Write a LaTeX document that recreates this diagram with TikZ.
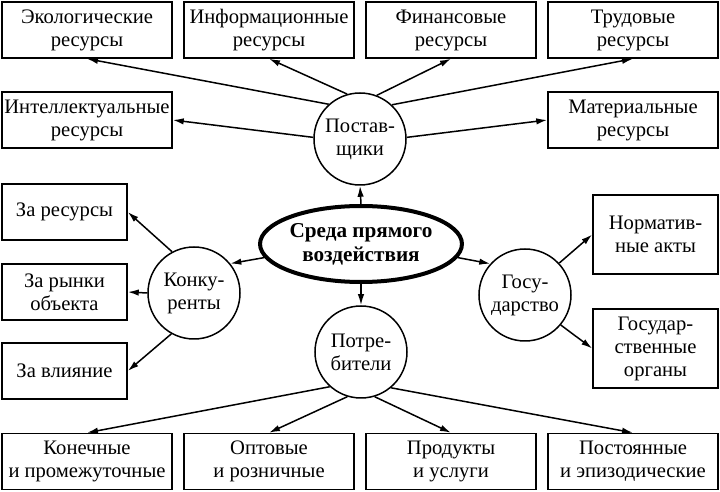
\documentclass[tikz,border=0pt]{standalone}
\usepackage{fontspec}
\setmainfont{Liberation Serif}
\usetikzlibrary{arrows.meta,shapes.geometric}
\tikzset{
  res/.style={draw,line width=0.75pt,minimum width=85pt,minimum height=28pt,inner sep=1pt,align=center},
  side/.style={res,minimum width=62.5pt},
  tall/.style={res,minimum width=62.5pt,minimum height=39.5pt},
  grp/.style={draw,circle,line width=0.75pt,minimum size=46pt,inner sep=0pt,align=center},
  arr/.style={line width=0.75pt,-{Latex[length=5.5pt,width=3.2pt]}}
}
\begin{document}
\begin{tikzpicture}[x=0.5pt,y=-0.5pt,font=\fontsize{10.3}{11.5}\selectfont]
  \useasboundingbox (0,0) rectangle (720,492);
  % central node and groups
  \node[draw,ellipse,line width=2pt,minimum width=98pt,minimum height=38pt,inner sep=0pt,align=center,font=\fontsize{10.6}{12}\selectfont\bfseries] (sreda) at (361,244) {Среда прямого\\воздействия};
  \node[grp] (postav) at (360,139) {Постав-\\щики};
  \node[grp] (konk) at (194,293) {Конку-\\ренты};
  \node[grp] (gos) at (525,295) {Госу-\\дарство};
  \node[grp] (potreb) at (361,352) {Потре-\\бители};
  % resources
  \node[res] (ekol) at (87,30) {Экологические\\ресурсы};
  \node[res] (inform) at (269,30) {Информационные\\ресурсы};
  \node[res] (finans) at (451,30) {Финансовые\\ресурсы};
  \node[res] (trud) at (633,30) {Трудовые\\ресурсы};
  \node[res] (intel) at (87,120) {Интеллектуальные\\ресурсы};
  \node[res] (mater) at (633,120) {Материальные\\ресурсы};
  % competitors
  \node[side] (zares) at (64.5,212) {За ресурсы};
  \node[side] (zarynki) at (64.5,292) {За рынки\\объекта};
  \node[side] (zavl) at (64.5,371) {За влияние};
  % state
  \node[tall] (norm) at (655.5,234.5) {Норматив-\\ные акты};
  \node[tall] (gosorg) at (655.5,348.5) {Государ-\\ственные\\органы};
  % consumers
  \node[res] (konech) at (87,461.5) {Конечные\\и промежуточные};
  \node[res] (opt) at (269,461.5) {Оптовые\\и розничные};
  \node[res] (prod) at (451,461.5) {Продукты\\и услуги};
  \node[res] (postoyan) at (633,461.5) {Постоянные\\и эпизодические};
  \draw[arr] (sreda.north) -- (postav.south);
  \draw[arr] (sreda.south) -- (potreb.north);
  \draw[arr] (sreda.188) -- (konk.39);
  \draw[arr] (sreda.352) -- (gos.138);
  \draw[arr] (postav.132) -- (ekol.south);
  \draw[arr] (postav.106) -- (inform.south);
  \draw[arr] (postav.69) -- (finans.south);
  \draw[arr] (postav.47) -- (trud.south);
  \draw[arr] (postav.178) -- (intel.east);
  \draw[arr] (postav.2) -- (mater.west);
  \draw[arr] (konk.118) -- (zares.east);
  \draw[arr] (konk.west) -- (zarynki.east);
  \draw[arr] (konk.241) -- (zavl.east);
  \draw[arr] (gos.43) -- (norm.west);
  \draw[arr] (gos.320) -- (gosorg.west);
  \draw[arr] (potreb.228) -- (konech.north);
  \draw[arr] (potreb.253) -- (opt.north);
  \draw[arr] (potreb.287) -- (prod.north);
  \draw[arr] (potreb.310) -- (postoyan.north);
\end{tikzpicture}
\end{document}
